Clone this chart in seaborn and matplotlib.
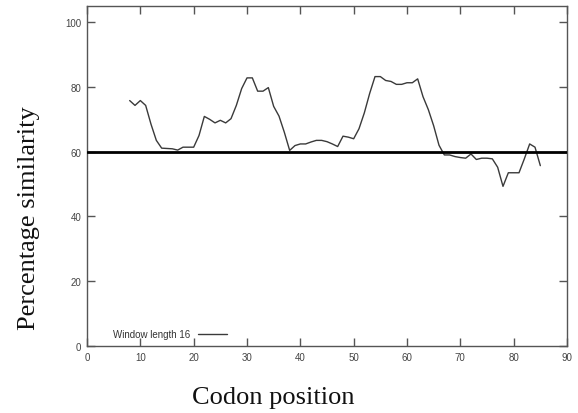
import matplotlib
matplotlib.use("Agg")
import matplotlib.pyplot as plt
import seaborn as sns
import pandas as pd

positions = list(range(8, 86))
similarity = [75.8, 74.3, 75.8, 74.3, 68.5, 63.5, 61.1, 61.0, 60.9, 60.5,
              61.4, 61.4, 61.4, 65.0, 70.9, 70.0, 68.9, 69.7, 68.9, 70.2,
              74.3, 79.5, 82.8, 82.8, 78.7, 78.7, 79.8, 74.0, 71.0, 66.0,
              60.4, 61.9, 62.4, 62.4, 63.0, 63.5, 63.5, 63.1, 62.4, 61.6,
              64.8, 64.5, 64.0, 67.1, 72.0, 78.0, 83.2, 83.2, 82.0, 81.7,
              80.8, 80.8, 81.3, 81.3, 82.5, 77.0, 73.0, 68.0, 62.0, 59.0,
              59.0, 58.5, 58.2, 58.0, 59.3, 57.6, 58.0, 58.0, 57.8, 55.2,
              49.3, 53.5, 53.5, 53.5, 57.8, 62.4, 61.4, 55.7]
threshold = 60
series_label = "Window length 16"
x_ticks = [0, 10, 20, 30, 40, 50, 60, 70, 80, 90]
y_ticks = [0, 20, 40, 60, 80, 100]

df = pd.DataFrame({"pos": positions, "sim": similarity})

sns.set_style("ticks")
fig = plt.figure(figsize=(5.78, 4.14), dpi=100)
ax = fig.add_axes([87/578, 1 - 347/414, 480/578, 340/414])

sns.lineplot(data=df, x="pos", y="sim", ax=ax, color="#3a3a3a",
             linewidth=1.0, label=series_label)
ax.axhline(threshold, color="black", linewidth=2.0, zorder=3)

ax.set_xlim(0, 90)
ax.set_ylim(0, 105)
ax.set_xticks(x_ticks)
ax.set_yticks(y_ticks)
ax.tick_params(direction="in", length=6, width=1, colors="#555555",
               top=True, right=True, labelsize=7, pad=4)
for lab in ax.get_xticklabels() + ax.get_yticklabels():
    lab.set_fontfamily(["Liberation Sans", "DejaVu Sans"])
    lab.set_color("#444444")
for s in ax.spines.values():
    s.set_color("#555555")
    s.set_linewidth(1.0)

ax.set_xlabel("Codon position", fontsize=19, fontfamily="Liberation Serif",
              color="#111111")
ax.set_ylabel("Percentage similarity", fontsize=19, fontfamily="Liberation Serif",
              color="#111111")
ax.xaxis.set_label_coords(0.3875, -0.118)
ax.yaxis.set_label_coords(-0.098, 0.379)

leg = ax.legend(loc="lower left", bbox_to_anchor=(0.035, -0.005), frameon=False,
                markerfirst=False, handlelength=3.0, handletextpad=0.8,
                prop={"family": "Liberation Sans", "size": 7})
for t in leg.get_texts():
    t.set_color("#333333")

fig.savefig("out.png", dpi=100)
